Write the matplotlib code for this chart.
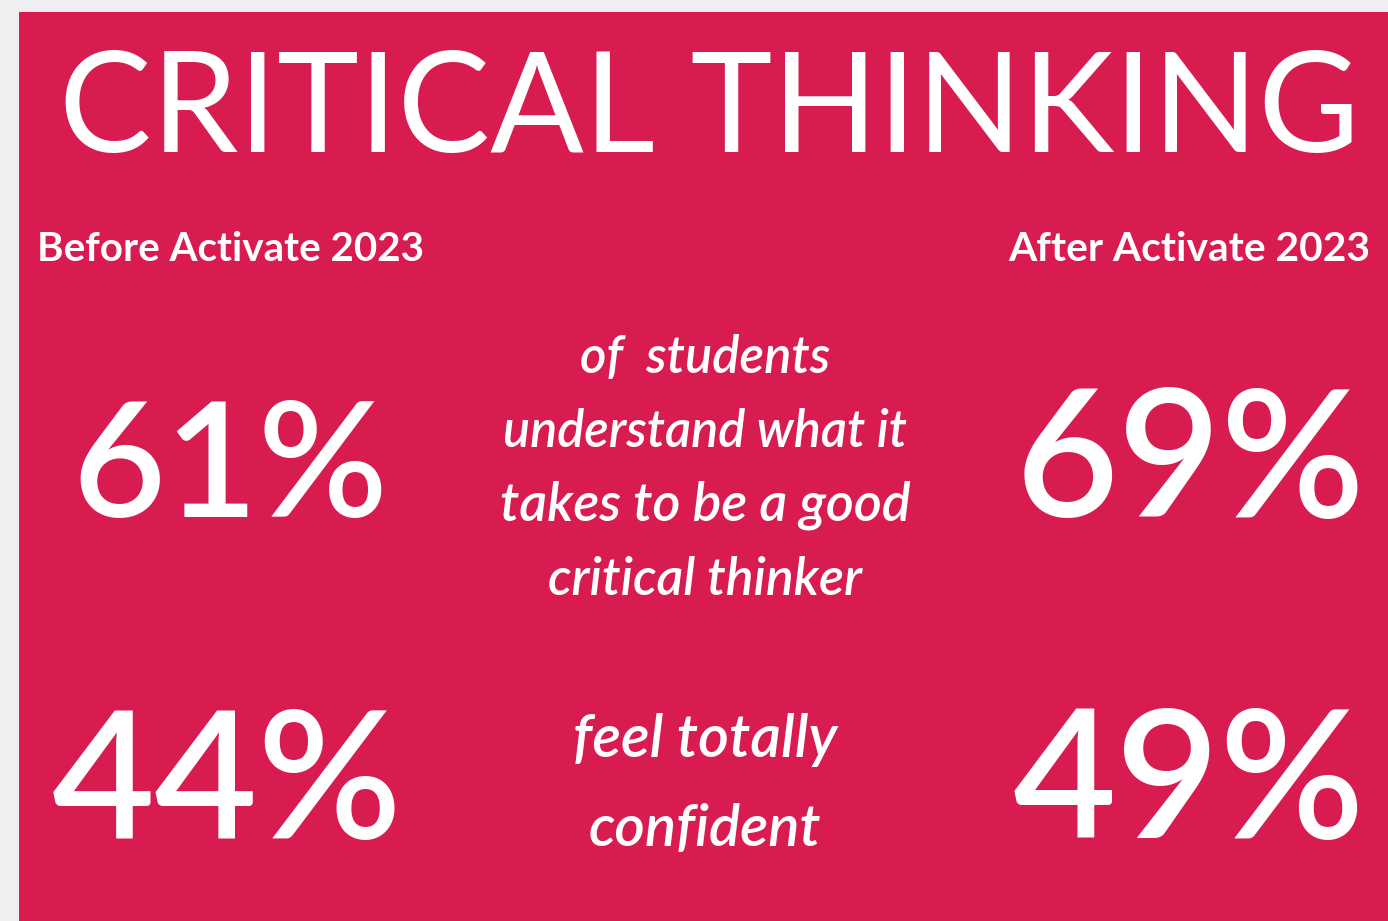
import matplotlib
matplotlib.use("Agg")
import matplotlib.pyplot as plt
from matplotlib.patches import Rectangle

W, H = 1388, 921
BG = "#EFEFF1"
RED = "#D81C50"

title = "CRITICAL THINKING"
headers = ["Before Activate 2023", "After Activate 2023"]
before_vals = ["61%", "44%"]
after_vals = ["69%", "49%"]
captions = [["of  students", "understand what it", "takes to be a good", "critical thinker"],
            ["feel totally", "confident"]]

fig = plt.figure(figsize=(W / 100, H / 100), dpi=100)
fig.patch.set_facecolor(BG)
fig.add_artist(Rectangle((19 / W, 0), 1 - 19 / W, 1 - 12 / H, transform=fig.transFigure,
                         facecolor=RED, edgecolor="none"))
renderer = fig.canvas.get_renderer()


def put(s, x, y, width, ha="center", **kw):
    # place text at pixel pos (baseline) and scale it so it spans `width` px
    t = fig.text(x / W, 1 - y / H, s, ha=ha, va="baseline", color="white",
                 family="Lato", fontsize=40, **kw)
    w = t.get_window_extent(renderer).width
    t.set_fontsize(40 * width / w)
    return t


put(title, 709, 152, 1302, weight="normal")
put(headers[0], 37, 261, 386, ha="left", weight="bold")
put(headers[1], 1370, 261, 362, ha="right", weight="bold")

num_rows = [517, 838]
put(before_vals[0], 230, num_rows[0], 316, weight="semibold")
put(before_vals[1], 227, num_rows[1], 350, weight="semibold")
put(after_vals[0], 1190, num_rows[0], 350, weight="semibold")
put(after_vals[1], 1189, num_rows[1], 352, weight="semibold")

cap_y = [[373, 447, 520, 595], [757, 846]]
cap_w = [[250, 404, 410, 314], [264, 232]]
for lines, ys, ws in zip(captions, cap_y, cap_w):
    for s, y, w in zip(lines, ys, ws):
        put(s, 705, y, w, style="italic", weight="semibold")

fig.savefig("out.png", dpi=100, facecolor=BG)
